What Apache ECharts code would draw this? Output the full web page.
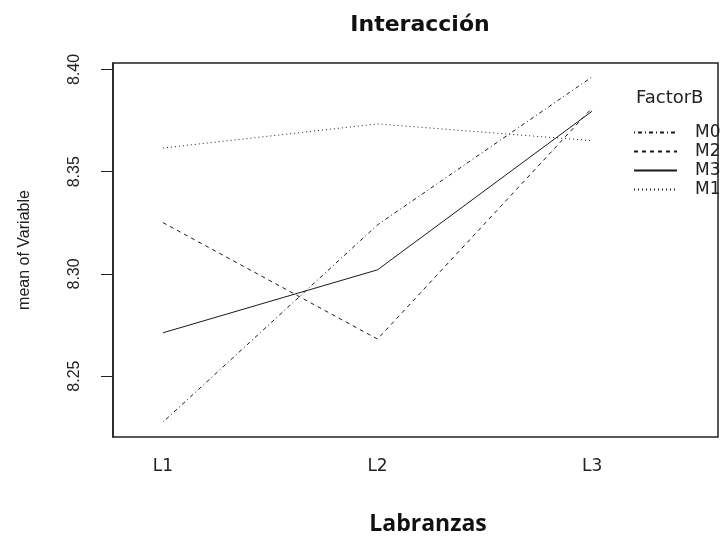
<!DOCTYPE html>
<html>
<head>
<meta charset="utf-8">
<title>Interacción</title>
<script src="https://cdn.jsdelivr.net/npm/echarts@6/dist/echarts.min.js"></script>
<style>
  html, body { margin: 0; padding: 0; background: #fff; }
  #main { width: 724px; height: 538px; }
</style>
</head>
<body>
<div id="main"></div>
<script>
// niveles de Labranza (eje x)
const labranzas = ['L1', 'L2', 'L3'];
// medias por nivel de FactorB
const m0 = [8.2275, 8.3240, 8.3964];
const m2 = [8.3251, 8.2681, 8.3812];
const m3 = [8.2712, 8.3020, 8.3796];
const m1 = [8.3616, 8.3734, 8.3652];
const yTicks = [8.25, 8.30, 8.35, 8.40];
const legendOrder = ['M0', 'M2', 'M3', 'M1'];

const myChart = echarts.init(document.getElementById('main'));

function pares(vals) {
  return vals.map((v, i) => [i + 1, v]);
}

const lineColor = '#1a1a1a';
const series = [
  { name: 'M0', data: m0, dash: [1, 3, 4, 3] },
  { name: 'M2', data: m2, dash: [4, 4] },
  { name: 'M3', data: m3, dash: 'solid' },
  { name: 'M1', data: m1, dash: [1, 3] }
].map(s => ({
  name: s.name,
  type: 'line',
  data: pares(s.data),
  symbol: 'none',
  silent: true,
  itemStyle: { color: lineColor },
  lineStyle: { color: lineColor, width: 1, type: s.dash }
}));

const option = {
  animation: false,
  backgroundColor: '#fff',
  title: [
    {
      text: 'Interacción',
      left: 415, top: 9, textAlign: 'center',
      textStyle: { fontFamily: 'DejaVu Sans', fontWeight: 'bold', fontSize: 22, color: '#111' }
    },
    {
      text: 'Labranzas',
      left: 423, top: 508, textAlign: 'center',
      textStyle: { fontFamily: 'Open Sans', fontWeight: 'bold', fontSize: 23, color: '#111' }
    },
    {
      text: 'FactorB',
      left: 631, top: 84,
      textStyle: { fontFamily: 'DejaVu Sans', fontWeight: 'normal', fontSize: 18, color: '#222' }
    }
  ],
  legend: {
    data: legendOrder,
    orient: 'vertical',
    left: 633, top: 124,
    padding: 0,
    itemWidth: 43, itemHeight: 14, itemGap: 2,
    itemStyle: { opacity: 0 },
    textStyle: { fontFamily: 'DejaVu Sans', fontSize: 17, lineHeight: 14, color: '#222', padding: [0, 0, 0, 13] },
    selectedMode: false
  },
  grid: {
    left: 113, top: 63, right: 6, bottom: 101,
    show: true, borderColor: '#222', borderWidth: 1.5, backgroundColor: 'transparent'
  },
  xAxis: {
    type: 'value',
    min: 0.767, max: 3.587,
    axisLine: { show: false },
    axisTick: { show: false },
    splitLine: { show: false },
    axisLabel: {
      customValues: [1, 2, 3],
      formatter: v => labranzas[Math.round(v) - 1],
      margin: 21,
      fontFamily: 'DejaVu Sans', fontSize: 17, color: '#222'
    }
  },
  yAxis: {
    type: 'value',
    min: 8.2202, max: 8.4032,
    name: 'mean of Variable',
    nameLocation: 'middle',
    nameRotate: 90,
    nameGap: 80,
    nameTextStyle: { fontFamily: 'Liberation Sans', fontSize: 16, color: '#222' },
    axisLine: { show: true, lineStyle: { color: '#222', width: 1.5 } },
    axisTick: { show: true, customValues: yTicks, length: 12, lineStyle: { color: '#222' } },
    splitLine: { show: false },
    axisLabel: {
      customValues: yTicks,
      rotate: 90,
      margin: 30,
      formatter: v => v.toFixed(2),
      fontFamily: 'Liberation Sans', fontSize: 16, color: '#222'
    }
  },
  series: series
};

myChart.setOption(option);
window.onresize = function () {
  myChart.resize();
};
</script>
</body>
</html>
